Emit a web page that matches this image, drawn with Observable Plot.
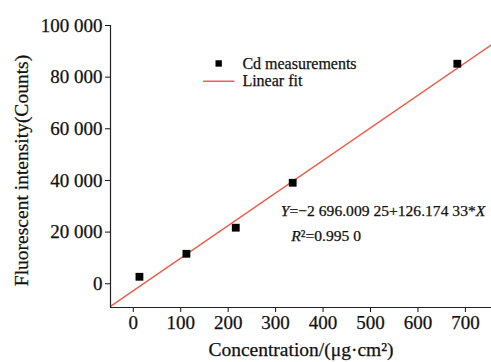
<!DOCTYPE html>
<html>
<head>
<meta charset="utf-8">
<script src="https://cdn.jsdelivr.net/npm/d3@7"></script>
<script src="https://cdn.jsdelivr.net/npm/@observablehq/plot@0.6"></script>
<style>
  body { margin: 0; background: #fff; }
  svg { font-family: "Liberation Serif", "Times New Roman", serif; }
  svg text { stroke: #111; stroke-width: 0.25px; }
</style>
</head>
<body>
<div id="chart"></div>
<script>
// Data
const concentration = [13, 112, 216, 336, 683];
const intensity = [2700, 11600, 21700, 39100, 85200];
const intercept = -2696.00925;
const slope = 126.17433;
const xTicks = [0, 100, 200, 300, 400, 500, 600, 700];
const yTicks = [0, 20000, 40000, 60000, 80000, 100000];
const xDomain = [-48, 755];
const yDomain = [-9200, 100000];
const legendLabels = ["Cd measurements", "Linear fit"];
const equationText = "Y=\u22122 696.009 25+126.174 33*X";
const r2Text = "R\u00B2=0.995 0";

const points = concentration.map((c, i) => ({x: c, y: intensity[i]}));
const fitLine = xDomain.map(x => ({x, y: intercept + slope * x}));
const fmt = d => d3.format(",")(d).replace(/,/g, " ");
const red = "#ef5f4c";

const plot = Plot.plot({
  width: 491,
  height: 362,
  marginLeft: 110,
  marginRight: 0,
  marginTop: 25,
  marginBottom: 55,
  style: {fontFamily: "Liberation Serif, serif", fontSize: "19px", color: "#111", background: "#fff"},
  x: {domain: xDomain, ticks: xTicks, tickFormat: d => String(d), tickSize: 5, label: null},
  y: {domain: yDomain, ticks: yTicks, tickFormat: fmt, tickSize: 5, label: null},
  marks: [
    Plot.line(fitLine, {x: "x", y: "y", stroke: red, strokeWidth: 1.5, clip: true}),
    Plot.dot(points, {x: "x", y: "y", symbol: "square", r: 4.4, fill: "#000", stroke: "none"}),
    // legend
    Plot.dot([{x: 180, y: 85300}], {x: "x", y: "y", symbol: "square", r: 3.6, fill: "#000"}),
    Plot.line([{x: 148, y: 78400}, {x: 212, y: 78400}], {x: "x", y: "y", stroke: red, strokeWidth: 1.5}),
    Plot.text([{x: 230, y: 85300, t: legendLabels[0]}, {x: 230, y: 78400, t: legendLabels[1]}],
      {x: "x", y: "y", text: "t", textAnchor: "start", fontSize: 16, fill: "#111"}),
    // annotations
    Plot.text([{x: 311, y: 28200, t: equationText}], {x: "x", y: "y", text: "t", textAnchor: "start", fontSize: 15.6, fill: "#111", className: "eq"}),
    Plot.text([{x: 333, y: 18400, t: r2Text}], {x: "x", y: "y", text: "t", textAnchor: "start", fontSize: 15.6, fill: "#111", className: "r2"}),
    Plot.axisX({ticks: xTicks, tickFormat: d => String(d), tickSize: 5, fontSize: 19, tickPadding: 3}),
    Plot.axisY({ticks: yTicks, tickFormat: fmt, tickSize: 5, fontSize: 19, tickPadding: 3}),
    Plot.ruleX([xDomain[0]], {stroke: "#222", strokeWidth: 1.2}),
    Plot.ruleY([yDomain[0]], {stroke: "#222", strokeWidth: 1.2}),
    Plot.text(["Concentration/(\u03BCg\u00B7cm\u00B2)"], {frameAnchor: "bottom", dy: 48, fontSize: 19.5, fill: "#111"}),
    Plot.text(["Fluorescent intensity(Counts)"], {frameAnchor: "left", textAnchor: "middle", dx: -89, dy: 4, rotate: -90, fontSize: 19.5, fill: "#111"})
  ]
});

// Italicise Y and X in the equation
d3.select(plot).selectAll("g.eq text").each(function() {
  const t = d3.select(this);
  const s = t.text();
  t.text(null);
  t.append("tspan").attr("font-style", "italic").text("Y");
  t.append("tspan").text(s.slice(1, -1));
  t.append("tspan").attr("font-style", "italic").text("X");
});
d3.select(plot).selectAll("g.r2 text").each(function() {
  const t = d3.select(this);
  const s = t.text();
  t.text(null);
  t.append("tspan").attr("font-style", "italic").text("R");
  t.append("tspan").text(s.slice(1));
});

document.getElementById("chart").appendChild(plot);
</script>
</body>
</html>
